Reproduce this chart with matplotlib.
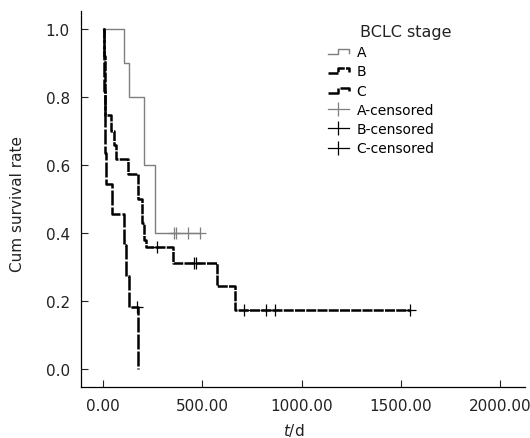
import numpy as np
import matplotlib
matplotlib.use('Agg')
import matplotlib.pyplot as plt
from matplotlib.lines import Line2D
from matplotlib.legend_handler import HandlerLine2D

# Kaplan-Meier step data (days, cumulative survival)
a_times = [0, 108, 130, 205, 260]
a_surv = [1.0, 0.9, 0.8, 0.6, 0.4]
a_end = 487
a_cens = [357, 367, 427, 487]

b_times = [0, 4, 8, 12, 41, 55, 65, 125, 177, 195, 205, 214, 354, 572, 667]
b_surv = [1.0, 0.92, 0.83, 0.747, 0.70, 0.659, 0.617, 0.575, 0.50, 0.43,
          0.38, 0.36, 0.312, 0.244, 0.173]
b_end = 1546
b_cens = [270, 460, 470, 709, 822, 866, 1546]

c_times = [0, 3, 6, 9, 12, 16, 46, 105, 118, 130, 177]
c_surv = [1.0, 0.909, 0.818, 0.727, 0.636, 0.545, 0.455, 0.364, 0.273,
          0.182, 0.0]
c_end = 177
c_cens = [172]

x_ticks = [0, 500, 1000, 1500, 2000]
y_ticks = [0.0, 0.2, 0.4, 0.6, 0.8, 1.0]


def step_xy(times, surv, end):
    return list(times) + [end], list(surv) + [surv[-1]]


def surv_at(times, surv, t):
    idx = np.searchsorted(times, t, side='right') - 1
    return np.array(surv)[idx]


class StepHandler(HandlerLine2D):
    # little step icon like the SPSS legend
    def create_artists(self, legend, orig_handle, xdescent, ydescent,
                       width, height, fontsize, trans):
        x0 = -xdescent
        x1 = x0 + width
        xm = x0 + 0.5 * width
        ylo = -ydescent + 0.2 * height
        yhi = -ydescent + 0.7 * height
        line = Line2D([x0, xm, xm, x1, x1], [ylo, ylo, yhi, yhi, ylo + 0.15 * height])
        line.update_from(orig_handle)
        line.set_transform(trans)
        return [line]


fig = plt.figure(figsize=(5.3, 4.39), dpi=100)
ax = fig.add_axes([81 / 530, 1 - 388 / 439, 444 / 530, 376 / 439])

gray = '#7f7f7f'
xa, ya = step_xy(a_times, a_surv, a_end)
la, = ax.step(xa, ya, where='post', color=gray, lw=1.0)
xb, yb = step_xy(b_times, b_surv, b_end)
lb, = ax.step(xb, yb, where='post', color='black', lw=1.8, dashes=(4, 0.5))
xc, yc = step_xy(c_times, c_surv, c_end)
lc, = ax.step(xc, yc, where='post', color='black', lw=1.8, dashes=(6, 0.8))

ax.plot(a_cens, surv_at(a_times, a_surv, a_cens), '+', color=gray, ms=8, mew=0.9)
ax.plot(b_cens, surv_at(b_times, b_surv, b_cens), '+', color='black', ms=8, mew=0.9)
ax.plot(c_cens, surv_at(c_times, c_surv, c_cens), '+', color='black', ms=8, mew=0.9)

ax.set_xlim(-111, 2126)
ax.set_ylim(-0.052, 1.053)
ax.set_xticks(x_ticks)
ax.set_xticklabels(['%.2f' % v for v in x_ticks])
ax.set_yticks(y_ticks)
ax.set_yticklabels(['%.1f' % v for v in y_ticks])
ax.tick_params(direction='in', length=5, width=0.8, labelsize=11, colors='#222222', pad=8)
for s in ['top', 'right']:
    ax.spines[s].set_visible(False)
for s in ['left', 'bottom']:
    ax.spines[s].set_linewidth(0.9)

ax.set_xlabel('$t$/d', fontsize=11, color='#222222')
ax.set_ylabel('Cum survival rate', fontsize=11, color='#222222')
ax.xaxis.set_label_coords(0.48, -0.09)
ax.yaxis.set_label_coords(-0.125, 0.49)

cens_a = Line2D([], [], color=gray, lw=0.9, marker='|', ms=10, mew=0.9)
cens_b = Line2D([], [], color='black', lw=0.9, marker='|', ms=10, mew=0.9)
cens_c = Line2D([], [], color='black', lw=0.9, marker='|', ms=10, mew=0.9)
fig.legend([la, lb, lc, cens_a, cens_b, cens_c],
           ['A', 'B', 'C', 'A-censored', 'B-censored', 'C-censored'],
           handler_map={la: StepHandler(), lb: StepHandler(), lc: StepHandler()},
           loc='upper left', bbox_to_anchor=(328 / 530, 1 - 46 / 439),
           frameon=False, fontsize=10, borderpad=0, borderaxespad=0,
           handlelength=1.5, handletextpad=0.55, labelspacing=0.38)
fig.text(360 / 530, 1 - 33 / 439, 'BCLC stage', fontsize=11.5, va='center',
         ha='left', color='#222222')

fig.savefig('out.png', dpi=100)
